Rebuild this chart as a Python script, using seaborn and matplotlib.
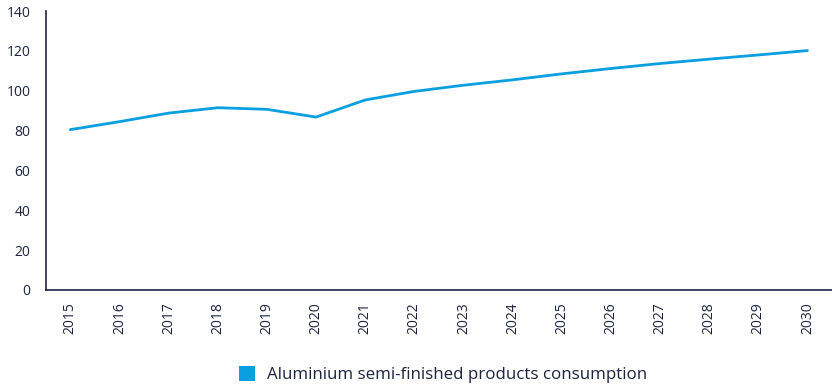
import matplotlib
matplotlib.use("Agg")
import matplotlib.pyplot as plt
import seaborn as sns
import pandas as pd
from matplotlib.patches import Patch

years = [str(y) for y in range(2015, 2031)]
consumption = [80.5, 84.5, 88.8, 91.5, 90.7, 86.8, 95.4, 99.7, 102.8, 105.5,
               108.5, 111.2, 113.7, 115.9, 118.0, 120.2]
series_name = "Aluminium semi-finished products consumption"
yticks = [0, 20, 40, 60, 80, 100, 120, 140]

sns.set_theme(style="white")
plt.rcParams['font.family'] = ['Open Sans', 'DejaVu Sans']
text_color = "#1b2440"
line_color = "#0a9fe0"

df = pd.DataFrame({"year": years, "value": consumption})

fig = plt.figure(figsize=(8.32, 3.85), dpi=100)
ax = fig.add_axes([0.055, 0.247, 0.945, 0.724])
sns.lineplot(data=df, x="year", y="value", ax=ax, color=line_color, linewidth=2.0, sort=False)

ax.set_xlim(-0.5, len(years) - 0.5)
ax.set_ylim(0, 140)
ax.set_yticks(yticks)
ax.set_xlabel("")
ax.set_ylabel("")
ax.tick_params(axis="both", length=0, colors=text_color, labelsize=10)
ax.tick_params(axis="x", rotation=90, pad=9)
ax.tick_params(axis="y", pad=11)
for s in ["top", "right"]:
    ax.spines[s].set_visible(False)
for s in ["left", "bottom"]:
    ax.spines[s].set_color(text_color)
    ax.spines[s].set_linewidth(1.2)

handles = [Patch(facecolor=line_color, edgecolor="none", label=series_name)]
fig.legend(handles=handles, loc="lower center", bbox_to_anchor=(0.532, -0.035), frameon=False,
           fontsize=12.2, labelcolor=text_color, handlelength=0.95, handleheight=0.95, handletextpad=0.7)

fig.savefig("out.png", dpi=100)
